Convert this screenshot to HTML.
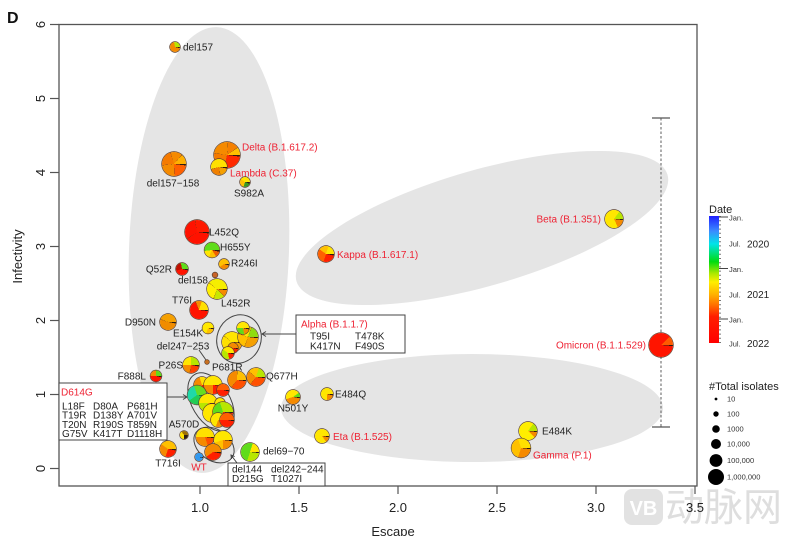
<!DOCTYPE html>
<html><head><meta charset="utf-8">
<style>
html,body{margin:0;padding:0;background:#fff;}
#w{position:relative;width:792px;height:536px;overflow:hidden;background:#fff;font-family:"Liberation Sans",Arial,sans-serif;}
svg{position:absolute;left:0;top:0;}
.p{position:absolute;border-radius:50%;transform:translate(-50%,-50%);box-shadow:0 0 0 0.7px #5b4030;}
</style></head><body><div id="w">
<svg width="792" height="536" viewBox="0 0 792 536" font-family="Liberation Sans, Arial, sans-serif">
<!-- watermark -->
<rect x="624" y="489" width="39" height="36" rx="8" fill="#e2e2e2"/>
<text x="643.5" y="515" font-size="20" font-weight="bold" fill="#fff" text-anchor="middle">VB</text>
<text x="665" y="521" font-size="39" fill="#dedede" font-family="Liberation Sans, Noto Sans CJK SC, sans-serif">动脉网</text>

<!-- gray ellipses -->
<ellipse cx="209" cy="250" rx="80" ry="223" fill="#e5e5e5" transform="rotate(2 209 250)"/>
<ellipse cx="482" cy="228" rx="193" ry="58" fill="#e5e5e5" transform="rotate(-16 482 228)"/>
<ellipse cx="472" cy="408" rx="191" ry="54" fill="#e5e5e5"/>

<text x="7" y="23" font-size="16" font-weight="bold" fill="#111">D</text>

<!-- box -->
<rect x="59" y="24.5" width="638" height="461.5" fill="none" stroke="#555" stroke-width="1.3"/>
<!-- y ticks -->
<g stroke="#555" stroke-width="1.2">
<line x1="50" y1="468.5" x2="59" y2="468.5"/><line x1="50" y1="394.5" x2="59" y2="394.5"/>
<line x1="50" y1="320.5" x2="59" y2="320.5"/><line x1="50" y1="246.5" x2="59" y2="246.5"/>
<line x1="50" y1="172.5" x2="59" y2="172.5"/><line x1="50" y1="98.5" x2="59" y2="98.5"/>
<line x1="50" y1="24.5" x2="59" y2="24.5"/>
</g>
<g font-size="13" fill="#222" text-anchor="middle">
<text transform="translate(45 468.5) rotate(-90)">0</text>
<text transform="translate(45 394.5) rotate(-90)">1</text>
<text transform="translate(45 320.5) rotate(-90)">2</text>
<text transform="translate(45 246.5) rotate(-90)">3</text>
<text transform="translate(45 172.5) rotate(-90)">4</text>
<text transform="translate(45 98.5) rotate(-90)">5</text>
<text transform="translate(45 24.5) rotate(-90)">6</text>
<text transform="translate(22 256.5) rotate(-90)">Infectivity</text>
</g>
<!-- x ticks -->
<g stroke="#555" stroke-width="1.2">
<line x1="200" y1="486" x2="200" y2="494"/><line x1="299" y1="486" x2="299" y2="494"/>
<line x1="398" y1="486" x2="398" y2="494"/><line x1="497" y1="486" x2="497" y2="494"/>
<line x1="596" y1="486" x2="596" y2="494"/><line x1="695" y1="486" x2="695" y2="494"/>
</g>
<g font-size="13" fill="#222" text-anchor="middle">
<text x="200" y="512">1.0</text><text x="299" y="512">1.5</text><text x="398" y="512">2.0</text>
<text x="497" y="512">2.5</text><text x="596" y="512">3.0</text><text x="695" y="512">3.5</text>
<text x="393" y="536">Escape</text>
</g>

<!-- error bar -->
<line x1="661" y1="118" x2="661" y2="427" stroke="#777" stroke-width="1.2" stroke-dasharray="2.5 2"/>
<line x1="652" y1="118" x2="670" y2="118" stroke="#555" stroke-width="1.2"/>
<line x1="652" y1="427" x2="670" y2="427" stroke="#555" stroke-width="1.2"/>

<!-- cluster outlines -->
<g fill="none" stroke="#444" stroke-width="1">
<ellipse cx="239" cy="339" rx="22" ry="24.5" transform="rotate(20 239 339)"/>
<ellipse cx="211" cy="402" rx="19" ry="32" transform="rotate(-31 211 402)"/>
<ellipse cx="214" cy="445" rx="22" ry="15.5" transform="rotate(35 214 445)"/>
</g>

<!-- boxes -->
<rect x="296" y="315" width="109" height="38" fill="#fff" stroke="#444" stroke-width="1"/>
<rect x="59" y="383" width="108" height="57" fill="#fff" stroke="#444" stroke-width="1"/>
<rect x="228" y="463" width="97" height="23" fill="#fff" stroke="#444" stroke-width="1"/>
<!-- arrows -->
<g stroke="#444" stroke-width="1" fill="none">
<line x1="296" y1="334" x2="262" y2="334"/><polyline points="266,331.5 262,334 266,336.5"/>
<line x1="167" y1="397" x2="187" y2="397"/><polyline points="183,394.5 187,397 183,399.5"/>
<line x1="237" y1="463" x2="231" y2="455"/><polyline points="231.5,459 231,455 234.7,456.6"/>
<line x1="199" y1="350" x2="206" y2="360"/>
</g>

<!-- box text -->
<g font-size="10" fill="#222">
<text x="301" y="327.5" fill="#ee2233">Alpha (B.1.1.7)</text>
<text x="310" y="339.5">T95I</text><text x="355" y="339.5">T478K</text>
<text x="310" y="349.5">K417N</text><text x="355" y="349.5">F490S</text>
<text x="61" y="395.5" fill="#ee2233">D614G</text>
<text x="62" y="409.5">L18F</text><text x="93" y="409.5">D80A</text><text x="127" y="409.5">P681H</text>
<text x="62" y="418.5">T19R</text><text x="93" y="418.5">D138Y</text><text x="127" y="418.5">A701V</text>
<text x="62" y="428">T20N</text><text x="93" y="428">R190S</text><text x="127" y="428">T859N</text>
<text x="62" y="437">G75V</text><text x="93" y="437">K417T</text><text x="127" y="437">D1118H</text>
<text x="232" y="472.5">del144</text><text x="271" y="472.5">del242−244</text>
<text x="232" y="482">D215G</text><text x="271" y="482">T1027I</text>
</g>

<!-- point labels -->
<g font-size="10" fill="#222">
<text x="183" y="50.6">del157</text>
<text x="173" y="186.5" text-anchor="middle">del157−158</text>
<text x="242" y="150.5" fill="#ee2233">Delta (B.1.617.2)</text>
<text x="230" y="176.5" fill="#ee2233">Lambda (C.37)</text>
<text x="249" y="196.5" text-anchor="middle">S982A</text>
<text x="209" y="235.5">L452Q</text>
<text x="220" y="250.5">H655Y</text>
<text x="231" y="266.5">R246I</text>
<text x="172" y="272.5" text-anchor="end">Q52R</text>
<text x="208" y="283.5" text-anchor="end">del158</text>
<text x="221" y="306.5">L452R</text>
<text x="192" y="303.5" text-anchor="end">T76I</text>
<text x="156" y="325.5" text-anchor="end">D950N</text>
<text x="203" y="336.5" text-anchor="end">E154K</text>
<text x="183" y="349.5" text-anchor="middle">del247−253</text>
<text x="337" y="258" fill="#ee2233">Kappa (B.1.617.1)</text>
<text x="183" y="368.5" text-anchor="end">P26S</text>
<text x="212" y="370.5">P681R</text>
<text x="146" y="379.5" text-anchor="end">F888L</text>
<text x="266" y="379.5">Q677H</text>
<text x="184" y="427.5" text-anchor="middle">A570D</text>
<text x="168" y="466.5" text-anchor="middle">T716I</text>
<text x="199" y="470.5" text-anchor="middle" fill="#ee2233">WT</text>
<text x="263" y="454.5">del69−70</text>
<text x="293" y="411.5" text-anchor="middle">N501Y</text>
<text x="335" y="397.5">E484Q</text>
<text x="333" y="440" fill="#ee2233">Eta (B.1.525)</text>
<text x="601" y="222.5" text-anchor="end" fill="#ee2233">Beta (B.1.351)</text>
<text x="646" y="348.5" text-anchor="end" fill="#ee2233">Omicron (B.1.1.529)</text>
<text x="542" y="434.5">E484K</text>
<text x="533" y="458.5" fill="#ee2233">Gamma (P.1)</text>
</g>

<!-- legend: date colorbar -->
<defs>
<linearGradient id="cb" x1="0" y1="0" x2="0" y2="1">
<stop offset="0" stop-color="#2020ff"/>
<stop offset="0.12" stop-color="#3a8cff"/>
<stop offset="0.22" stop-color="#00e4e8"/>
<stop offset="0.36" stop-color="#00dc10"/>
<stop offset="0.45" stop-color="#a8e800"/>
<stop offset="0.52" stop-color="#ffee00"/>
<stop offset="0.62" stop-color="#ffb000"/>
<stop offset="0.70" stop-color="#ff7000"/>
<stop offset="0.79" stop-color="#ff2000"/>
<stop offset="1" stop-color="#ff0000"/>
</linearGradient>
</defs>
<text x="709" y="213" font-size="11" fill="#222">Date</text>
<rect x="709" y="216" width="10" height="127" fill="url(#cb)"/>
<line x1="720" y1="216" x2="720" y2="343" stroke="#555" stroke-width="1.6" stroke-dasharray="1 3.2"/>
<g stroke="#444" stroke-width="1">
<line x1="719" y1="217" x2="728" y2="217"/><line x1="719" y1="268.5" x2="728" y2="268.5"/><line x1="719" y1="319" x2="728" y2="319"/>
</g>
<g font-size="7.5" fill="#333">
<text x="729" y="220.5">Jan.</text>
<text x="729" y="246.5">Jul.</text>
<text x="729" y="272">Jan.</text>
<text x="729" y="297.5">Jul.</text>
<text x="729" y="322.5">Jan.</text>
<text x="729" y="346.5">Jul.</text>
</g>
<g font-size="10" fill="#222">
<text x="747" y="247.5">2020</text>
<text x="747" y="298">2021</text>
<text x="747" y="347">2022</text>
</g>
<!-- legend: size -->
<text x="709" y="390" font-size="11" fill="#222">#Total isolates</text>
<g fill="#000">
<circle cx="716" cy="399" r="1.4"/>
<circle cx="716" cy="414" r="2.7"/>
<circle cx="716" cy="429" r="3.8"/>
<circle cx="716" cy="444" r="5"/>
<circle cx="716" cy="460.5" r="6.4"/>
<circle cx="716" cy="477" r="8"/>
</g>
<g font-size="7.5" fill="#333">
<text x="727" y="401.5">10</text>
<text x="727" y="416.5">100</text>
<text x="727" y="431.5">1000</text>
<text x="727" y="446.5">10,000</text>
<text x="727" y="463">100,000</text>
<text x="727" y="479.5">1,000,000</text>
</g>
</svg>

<!-- pies -->
<div class="p" style="left:175px;top:47px;width:10px;height:10px;background:conic-gradient(from 90deg,#2b1c10 0 4%,#f58a00 0 72%,#b8e600 0)"></div>
<div class="p" style="left:174px;top:164px;width:24px;height:24px;background:conic-gradient(from 90deg,#2b1c10 0 2%,#ff6000 0 24%,#8a5020 0 24.6%,#f58a00 0 48%,#8a5020 0 48.6%,#f57a00 0 70%,#8a5020 0 70.6%,#f58a00 0 86%,#8a5020 0 86.6%,#ffb000 0)"></div>
<div class="p" style="left:227px;top:155px;width:26px;height:26px;background:conic-gradient(from 90deg,#2b1c10 0 2%,#ff2a00 0 28%,#8a5020 0 28.6%,#f57a00 0 52%,#8a5020 0 52.6%,#f58a00 0 76%,#8a5020 0 76.6%,#f58000 0 90%,#8a5020 0 90.6%,#ffc000 0)"></div>
<div class="p" style="left:219px;top:167px;width:16px;height:16px;background:conic-gradient(from 90deg,#2b1c10 0 3%,#f5a000 0 22%,#8a5020 0 23%,#f08000 0 45%,#8a5020 0 46%,#ffe000 0)"></div>
<div class="p" style="left:245px;top:182px;width:10px;height:10px;background:conic-gradient(from 90deg,#2b1c10 0 6%,#3a9a20 0 30%,#ffc000 0 60%,#ffe600 0)"></div>
<div class="p" style="left:197px;top:232px;width:24px;height:24px;background:conic-gradient(from 90deg,#2b1c10 0 2%,#ff1200 0 40%,#8a3010 0 40.6%,#ff1200 0 72%,#8a3010 0 72.6%,#ff1a00 0)"></div>
<div class="p" style="left:212px;top:250px;width:15px;height:15px;background:conic-gradient(from 90deg,#2b1c10 0 4%,#f06000 0 16%,#ffc000 0 32%,#ffe600 0 48%,#5fdc1a 0)"></div>
<div class="p" style="left:224px;top:264px;width:10px;height:10px;background:conic-gradient(from 90deg,#2b1c10 0 5%,#f58a00 0 40%,#ffc000 0)"></div>
<div class="p" style="left:182px;top:269px;width:12px;height:12px;background:conic-gradient(from 90deg,#2b1c10 0 4%,#ff1400 0 45%,#c01000 0 72%,#5fdc1a 0)"></div>
<div class="p" style="left:215px;top:275px;width:5px;height:5px;background:#c86428"></div>
<div class="p" style="left:217px;top:289px;width:20px;height:20px;background:conic-gradient(from 90deg,#2b1c10 0 2%,#f58a00 0 12%,#8a5020 0 12.7%,#c8e600 0 30%,#8a5020 0 30.7%,#fff000 0 60%,#8a5020 0 60.7%,#f5ee00 0)"></div>
<div class="p" style="left:199px;top:310px;width:18px;height:18px;background:conic-gradient(from 90deg,#2b1c10 0 2%,#ff1400 0 68%,#8a3010 0 69%,#f58a00 0 80%,#ffe000 0)"></div>
<div class="p" style="left:168px;top:322px;width:16px;height:16px;background:conic-gradient(from 90deg,#2b1c10 0 3%,#f08c00 0 55%,#8a5020 0 56%,#f5a000 0)"></div>
<div class="p" style="left:208px;top:328px;width:11px;height:11px;background:conic-gradient(from 90deg,#2b1c10 0 4%,#ffc000 0 30%,#ffe800 0)"></div>
<div class="p" style="left:207px;top:362px;width:4px;height:4px;background:#c87020"></div>
<!-- alpha -->
<div class="p" style="left:232px;top:342px;width:20px;height:20px;background:conic-gradient(from 90deg,#2b1c10 0 2%,#f5a000 0 20%,#8a5020 0 20.7%,#ffe000 0 60%,#8a5020 0 60.7%,#ffe600 0)"></div>
<div class="p" style="left:248px;top:337px;width:20px;height:20px;background:conic-gradient(from 90deg,#2b1c10 0 2%,#f5a000 0 30%,#8a5020 0 30.7%,#ffc000 0 55%,#8a5020 0 55.7%,#ffe600 0 80%,#8a5020 0 80.7%,#8fdc10 0)"></div>
<div class="p" style="left:243px;top:328px;width:12px;height:12px;background:conic-gradient(from 90deg,#2b1c10 0 4%,#f58a00 0 22%,#5fdc1a 0 50%,#ffe600 0)"></div>
<div class="p" style="left:233px;top:348px;width:10px;height:10px;background:conic-gradient(from 90deg,#2b1c10 0 4%,#ff2000 0 50%,#f58a00 0)"></div>
<div class="p" style="left:228px;top:353px;width:12px;height:12px;background:conic-gradient(from 90deg,#2b1c10 0 4%,#ff2000 0 22%,#b8e600 0 60%,#ffe600 0)"></div>
<!-- misc -->
<div class="p" style="left:191px;top:365px;width:16px;height:16px;background:conic-gradient(from 90deg,#2b1c10 0 3%,#ff4000 0 27%,#8a5020 0 28%,#f58a00 0 50%,#ffe600 0 75%,#b8e600 0)"></div>
<div class="p" style="left:156px;top:376px;width:11px;height:11px;background:conic-gradient(from 90deg,#2b1c10 0 4%,#ff1400 0 50%,#f58a00 0 75%,#5fdc1a 0)"></div>
<div class="p" style="left:237px;top:380px;width:18px;height:18px;background:conic-gradient(from 90deg,#2b1c10 0 2%,#ff5000 0 35%,#8a5020 0 35.7%,#f58a00 0 75%,#8a5020 0 75.7%,#ffc000 0)"></div>
<div class="p" style="left:256px;top:377px;width:18px;height:18px;background:conic-gradient(from 90deg,#2b1c10 0 2%,#ff5000 0 35%,#8a5020 0 35.7%,#f58a00 0 60%,#8a5020 0 60.7%,#ffc000 0 80%,#b8e600 0)"></div>
<!-- D614G cluster -->
<div class="p" style="left:202px;top:385px;width:16px;height:16px;background:conic-gradient(from 90deg,#2b1c10 0 3%,#ff2000 0 30%,#f58a00 0 70%,#ffe000 0)"></div>
<div class="p" style="left:213px;top:385px;width:18px;height:18px;background:conic-gradient(from 90deg,#2b1c10 0 2%,#ff2000 0 25%,#f58a00 0 50%,#ffe600 0)"></div>
<div class="p" style="left:223px;top:390px;width:12px;height:12px;background:conic-gradient(from 90deg,#2b1c10 0 4%,#ff2000 0 50%,#ff6000 0)"></div>
<div class="p" style="left:197px;top:395px;width:19px;height:19px;background:conic-gradient(from 90deg,#2b1c10 0 2%,#22cc55 0 40%,#20d8a8 0 70%,#66dd22 0)"></div>
<div class="p" style="left:208px;top:403px;width:18px;height:18px;background:conic-gradient(from 90deg,#2b1c10 0 2%,#f58a00 0 15%,#b8e600 0 50%,#ffe600 0)"></div>
<div class="p" style="left:220px;top:403px;width:10px;height:10px;background:#ffe600"></div>
<div class="p" style="left:212px;top:413px;width:18px;height:18px;background:conic-gradient(from 90deg,#2b1c10 0 2%,#ffc000 0 30%,#ffe600 0)"></div>
<div class="p" style="left:223px;top:412px;width:20px;height:20px;background:conic-gradient(from 90deg,#2b1c10 0 2%,#ff2000 0 20%,#f58a00 0 35%,#5fdc1a 0 70%,#b8e600 0)"></div>
<div class="p" style="left:218px;top:420px;width:14px;height:14px;background:conic-gradient(from 90deg,#2b1c10 0 3%,#f58a00 0 30%,#ffe600 0)"></div>
<div class="p" style="left:227px;top:420px;width:14px;height:14px;background:conic-gradient(from 90deg,#2b1c10 0 3%,#ff2000 0 50%,#ff6000 0)"></div>
<!-- del144 cluster -->
<div class="p" style="left:205px;top:437px;width:18px;height:18px;background:conic-gradient(from 90deg,#2b1c10 0 2%,#ff5000 0 20%,#f58a00 0 50%,#ffe000 0)"></div>
<div class="p" style="left:223px;top:440px;width:18px;height:18px;background:conic-gradient(from 90deg,#2b1c10 0 2%,#f58a00 0 25%,#ffc000 0 45%,#ffe600 0)"></div>
<div class="p" style="left:213px;top:452px;width:16px;height:16px;background:conic-gradient(from 90deg,#2b1c10 0 3%,#ff2000 0 40%,#f58a00 0)"></div>
<div class="p" style="left:184px;top:435px;width:8px;height:8px;background:conic-gradient(from 90deg,#2b1c10 0 25%,#ffe000 0 65%,#a07000 0)"></div>
<div class="p" style="left:168px;top:449px;width:16px;height:16px;background:conic-gradient(from 90deg,#2b1c10 0 3%,#ff2000 0 30%,#f58a00 0 60%,#ffc000 0)"></div>
<div class="p" style="left:199px;top:457px;width:8px;height:8px;background:conic-gradient(from 90deg,#2b1c10 0 4%,#3399ee 0)"></div>
<div class="p" style="left:250px;top:452px;width:18px;height:18px;background:conic-gradient(from 90deg,#2b1c10 0 2%,#b8e600 0 30%,#5fdc1a 0 80%,#ffe600 0)"></div>
<div class="p" style="left:293px;top:397px;width:14px;height:14px;background:conic-gradient(from 90deg,#2b1c10 0 3%,#f58a00 0 45%,#ffe600 0 90%,#5fdc1a 0)"></div>
<div class="p" style="left:327px;top:394px;width:12px;height:12px;background:conic-gradient(from 90deg,#2b1c10 0 4%,#f58a00 0 25%,#ffe600 0)"></div>
<div class="p" style="left:322px;top:436px;width:14px;height:14px;background:conic-gradient(from 90deg,#2b1c10 0 3%,#f58a00 0 15%,#ffe600 0)"></div>
<div class="p" style="left:326px;top:254px;width:16px;height:16px;background:conic-gradient(from 90deg,#2b1c10 0 3%,#ff2000 0 30%,#ff6000 0 60%,#ffc000 0 80%,#ffe600 0)"></div>
<div class="p" style="left:614px;top:219px;width:18px;height:18px;background:conic-gradient(from 90deg,#2b1c10 0 2%,#f58a00 0 18%,#ffe600 0 85%,#b8e600 0)"></div>
<div class="p" style="left:661px;top:345px;width:24px;height:24px;background:conic-gradient(from 90deg,#2b1c10 0 1.5%,#ff1400 0 88%,#ff5a00 0)"></div>
<div class="p" style="left:528px;top:431px;width:18px;height:18px;background:conic-gradient(from 90deg,#2b1c10 0 2%,#f58a00 0 12%,#ffee00 0 85%,#b8e600 0)"></div>
<div class="p" style="left:521px;top:448px;width:19px;height:19px;background:conic-gradient(from 90deg,#2b1c10 0 2%,#f58a00 0 30%,#ffc000 0 70%,#ffe000 0)"></div>
</div></body></html>
